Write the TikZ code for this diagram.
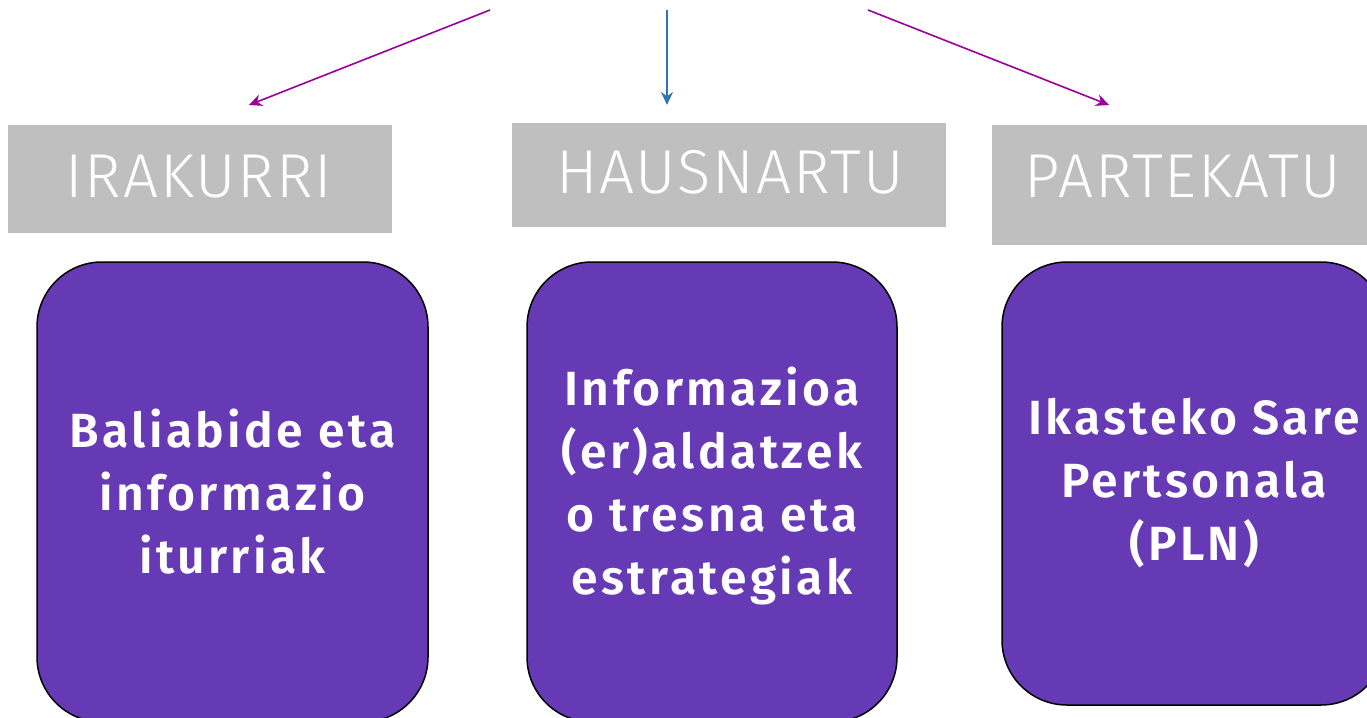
\documentclass[tikz,border=0pt]{standalone}
\usepackage{fontspec}
\setmainfont{Fira Sans}
\newfontfamily\lightfont[LetterSpace=3]{Fira Sans Light}
\newfontfamily\semifont[LetterSpace=7]{Fira Sans SemiBold}
\usetikzlibrary{arrows.meta}
\definecolor{hdrgray}{HTML}{BFBFBF}
\definecolor{boxpurple}{HTML}{673AB5}
\definecolor{arrpurple}{HTML}{990099}
\definecolor{arrblue}{HTML}{2E75B6}
\begin{document}
\begin{tikzpicture}[x=1pt,y=-1pt,
  hdr/.style={fill=hdrgray, draw=none, inner sep=0pt},
  hdrtext/.style={text=white, inner sep=0pt, anchor=base,
    font=\lightfont\fontsize{62}{66}\selectfont},
  card/.style={fill=boxpurple, draw=black, line width=1.5pt, rounded corners=65pt,
    inner sep=0pt},
  cardtext/.style={text=white, align=center, inner sep=0pt,
    font=\semifont\fontsize{48}{63}\selectfont},
  conn/.style={line width=1.6pt, -{Stealth[length=13pt,width=12pt]}}
]
\useasboundingbox (0,0) rectangle (1367,717);
\clip (0,0) rectangle (1367,717);
\fill[white] (0,0) rectangle (1367,717);

\node[hdr, minimum width=384pt, minimum height=108pt] (h1) at (200,179) {};
\node[hdr, minimum width=434pt, minimum height=104pt] (h2) at (729,175) {};
\node[hdr, minimum width=400pt, minimum height=120pt] (h3) at (1192,185) {};
\node[hdrtext] (t1) at (199,197) {IRAKURRI};
\node[hdrtext] (t2) at (730,193) {HAUSNARTU};
\node[hdrtext] (t3) at (1183,197) {PARTEKATU};

\node[card, minimum width=391pt, minimum height=460pt] (c1) at (232.5,492) {};
\node[card, minimum width=370pt, minimum height=460pt] (c2) at (712,492) {};
\node[card, minimum width=384pt, minimum height=443pt] (c3) at (1194,483.5) {};
\node[cardtext] (ct1) at (232.5,492) {Baliabide eta\\informazio\\iturriak};
\node[cardtext] (ct2) at (712,486) {Informazioa\\(er)aldatzek\\o tresna eta\\estrategiak};
\node[cardtext] (ct3) at (1194,483.5) {Ikasteko Sare\\Pertsonala\\(PLN)};

\coordinate (s1) at (490,10);
\coordinate (e1) at (249,105);
\coordinate (s2) at (667,10);
\coordinate (e2) at (667,105);
\coordinate (s3) at (868,10);
\coordinate (e3) at (1109,105);

\draw[conn, arrpurple] (s1) -- (e1);
\draw[conn, arrblue] (s2) -- (e2);
\draw[conn, arrpurple] (s3) -- (e3);
\end{tikzpicture}
\end{document}
